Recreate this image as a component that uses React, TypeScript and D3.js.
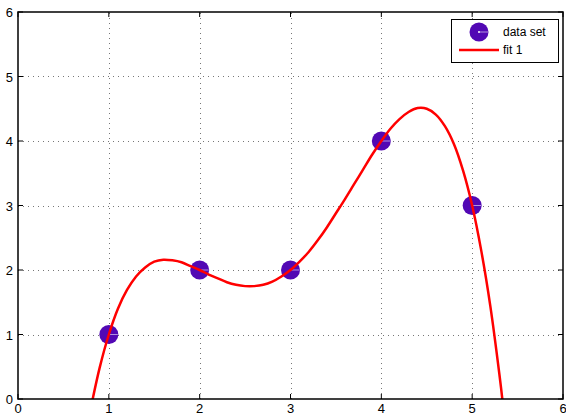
import React, { useEffect, useRef } from "react";
import * as d3 from "d3";

// data set (markers)
const dataX = [1, 2, 3, 4, 5];
const dataY = [1, 2, 2, 4, 3];

// fit 1
const fitX = [0.8, 0.9, 1.0, 1.1, 1.2, 1.3, 1.4, 1.5, 1.6, 1.7, 1.8, 1.9, 2.0, 2.1, 2.2, 2.3, 2.4, 2.5, 2.6, 2.7, 2.8, 2.9, 3.0, 3.1, 3.2, 3.3, 3.4, 3.5, 3.6, 3.7, 3.8, 3.9, 4.0, 4.1, 4.2, 4.3, 4.4, 4.5, 4.6, 4.7, 4.8, 4.9, 5.0, 5.1, 5.2, 5.3, 5.35];
const fitY = [-0.15, 0.49, 1.0, 1.4, 1.69, 1.9, 2.04, 2.13, 2.16, 2.15, 2.12, 2.06, 2.0, 1.93, 1.87, 1.81, 1.77, 1.75, 1.75, 1.77, 1.82, 1.9, 2.0, 2.13, 2.28, 2.46, 2.66, 2.88, 3.1, 3.33, 3.56, 3.79, 4.0, 4.19, 4.34, 4.45, 4.51, 4.5, 4.41, 4.23, 3.95, 3.54, 3.0, 2.3, 1.44, 0.38, -0.22];

const xTicks = [0, 1, 2, 3, 4, 5, 6];
const yTicks = [0, 1, 2, 3, 4, 5, 6];

const W = 566, H = 416;
const margin = { left: 18, top: 12, right: 3, bottom: 17 };
const font = "'Liberation Sans', Arial, Helvetica, sans-serif";
const purple = "#5208b4";

const App = () => {
  const ref = useRef<SVGSVGElement>(null);

  useEffect(() => {
    const svg = d3.select(ref.current);
    svg.selectAll("*").remove();
    const x0 = margin.left, x1 = W - margin.right;
    const y0 = H - margin.bottom, y1 = margin.top;

    const x = d3.scaleLinear().domain([0, 6]).range([x0, x1]);
    const y = d3.scaleLinear().domain([0, 6]).range([y0, y1]);

    svg.append("defs").append("clipPath").attr("id", "plotclip")
      .append("rect").attr("x", x0).attr("y", y1).attr("width", x1 - x0).attr("height", y0 - y1);

    // grid
    const grid = svg.append("g").attr("stroke", "#777").attr("stroke-width", 1)
      .attr("stroke-dasharray", "1,4").attr("shape-rendering", "crispEdges");
    xTicks.slice(1, -1).forEach(t => {
      grid.append("line").attr("x1", Math.round(x(t)) + 0.5).attr("x2", Math.round(x(t)) + 0.5)
        .attr("y1", y0).attr("y2", y1);
    });
    yTicks.slice(1, -1).forEach(t => {
      grid.append("line").attr("y1", Math.round(y(t)) + 0.5).attr("y2", Math.round(y(t)) + 0.5)
        .attr("x1", x0).attr("x2", x1);
    });

    // markers
    const mk = svg.append("g");
    dataX.forEach((dx, i) => {
      mk.append("circle").attr("cx", x(dx)).attr("cy", y(dataY[i])).attr("r", 9.5).attr("fill", purple);
      mk.append("line").attr("x1", x(dx)).attr("x2", x(dx) + 9).attr("y1", y(dataY[i])).attr("y2", y(dataY[i]))
        .attr("stroke", "#fff").attr("stroke-width", 0.8).attr("opacity", 0.7);
    });

    // fit curve, drawn over the markers
    const line = d3.line<number>()
      .x((_, i) => x(fitX[i]))
      .y(d => y(d))
      .curve(d3.curveCatmullRom);
    svg.append("path").attr("clip-path", "url(#plotclip)")
      .attr("d", line(fitY)).attr("fill", "none").attr("stroke", "#ff0000").attr("stroke-width", 2.5);

    // box
    svg.append("rect").attr("x", x0).attr("y", y1).attr("width", x1 - x0).attr("height", y0 - y1)
      .attr("fill", "none").attr("stroke", "#000").attr("stroke-width", 1.5);

    // inward ticks on all sides
    const tk = svg.append("g").attr("stroke", "#000").attr("stroke-width", 1);
    xTicks.forEach(t => {
      tk.append("line").attr("x1", x(t)).attr("x2", x(t)).attr("y1", y0).attr("y2", y0 - 5);
      tk.append("line").attr("x1", x(t)).attr("x2", x(t)).attr("y1", y1).attr("y2", y1 + 5);
    });
    yTicks.forEach(t => {
      tk.append("line").attr("y1", y(t)).attr("y2", y(t)).attr("x1", x0).attr("x2", x0 + 5);
      tk.append("line").attr("y1", y(t)).attr("y2", y(t)).attr("x1", x1).attr("x2", x1 - 5);
    });

    // tick labels
    const lab = svg.append("g").attr("font-family", font).attr("font-size", 13).attr("fill", "#000");
    xTicks.forEach(t => {
      lab.append("text").attr("x", x(t)).attr("y", y0 + 14).attr("text-anchor", "middle").text(t);
    });
    yTicks.forEach(t => {
      lab.append("text").attr("x", x0 - 5).attr("y", y(t) + 5).attr("text-anchor", "end").text(t);
    });

    // legend
    const lg = svg.append("g").attr("font-family", font).attr("font-size", 12);
    lg.append("rect").attr("x", 451.5).attr("y", 19.5).attr("width", 107).attr("height", 43)
      .attr("fill", "#fff").attr("stroke", "#000").attr("stroke-width", 1);
    lg.append("circle").attr("cx", 479).attr("cy", 32).attr("r", 9.5).attr("fill", purple);
    lg.append("circle").attr("cx", 479).attr("cy", 32).attr("r", 1).attr("fill", "#fff");
    lg.append("line").attr("x1", 480).attr("x2", 488).attr("y1", 32).attr("y2", 32)
      .attr("stroke", "#fff").attr("stroke-width", 0.8).attr("opacity", 0.7);
    lg.append("text").attr("x", 503).attr("y", 36).text("data set");
    lg.append("line").attr("x1", 459).attr("x2", 499).attr("y1", 50).attr("y2", 50)
      .attr("stroke", "#ff0000").attr("stroke-width", 2.5);
    lg.append("text").attr("x", 503).attr("y", 54).text("fit 1");
  }, []);

  return (
    <svg ref={ref} width={W} height={H}
      style={{ position: "absolute", left: 0, top: 0, background: "#fff" }} />
  );
};

export default App;
